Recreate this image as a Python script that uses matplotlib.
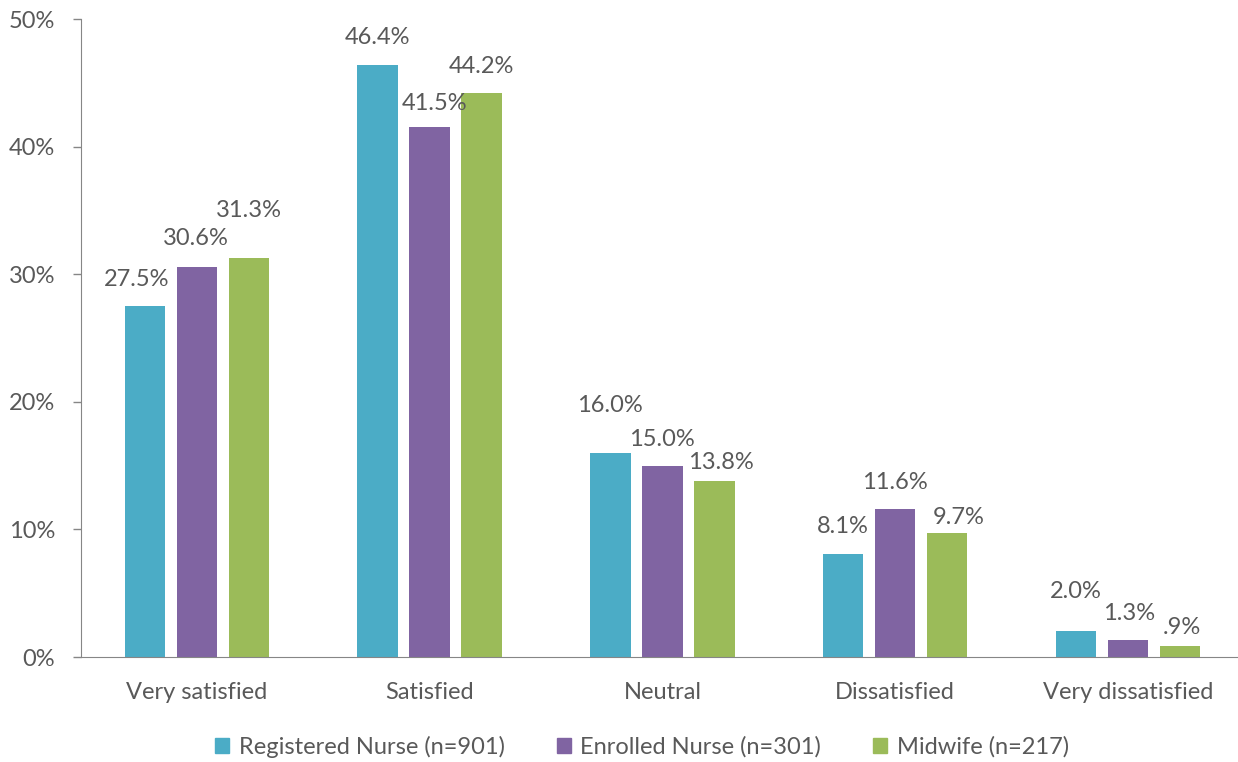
import matplotlib.pyplot as plt
import matplotlib.patches as mpatches
import numpy as np

categories = ['Very satisfied', 'Satisfied', 'Neutral', 'Dissatisfied', 'Very dissatisfied']
series = ['Registered Nurse (n=901)', 'Enrolled Nurse (n=301)', 'Midwife (n=217)']
registered = [27.5, 46.4, 16.0, 8.1, 2.0]
enrolled = [30.6, 41.5, 15.0, 11.6, 1.3]
midwife = [31.3, 44.2, 13.8, 9.7, 0.9]
labels = [['27.5%', '46.4%', '16.0%', '8.1%', '2.0%'],
          ['30.6%', '41.5%', '15.0%', '11.6%', '1.3%'],
          ['31.3%', '44.2%', '13.8%', '9.7%', '.9%']]

colors = ['#4BACC6', '#8064A2', '#9BBB59']
text_c = '#595959'
# label nudges in pixels (dx, dy above bar top), Excel style placement
nudges = [[(-8, 27), (0, 27.5), (0, 47), (0, 27), (0, 40)],
          [(-1, 28), (5, 24), (0, 26), (0, 26.5), (1, 26.5)],
          [(0, 47), (0, 26.5), (7, 18), (12, 15.5), (2, 18)]]

plt.rcParams['font.family'] = ['Lato', 'DejaVu Sans']
fs = 17

fig = plt.figure(figsize=(12.38, 7.62), dpi=100)
ax = fig.add_axes([80.5/1238, 105/762, 1163.75/1238, 638/762])

x = np.arange(len(categories))
width = 0.174
step = 0.2234
for i, vals in enumerate([registered, enrolled, midwife]):
    bars = ax.bar(x + (i - 1) * step, vals, width, color=colors[i], label=series[i])
    for j, b in enumerate(bars):
        dx, dy = nudges[i][j]
        ax.annotate(labels[i][j], (b.get_x() + b.get_width() / 2, b.get_height()),
                    xytext=(dx, dy), textcoords='offset pixels',
                    ha='center', va='center', fontsize=fs, color=text_c)

ax.set_xlim(-0.5, len(categories) - 0.5)
ax.set_ylim(0, 50)
ax.set_yticks(np.arange(0, 51, 10))
ax.set_yticklabels([f'{v}%' for v in range(0, 51, 10)])
ax.set_xticks(x)
ax.set_xticklabels(categories)
ax.tick_params(axis='x', length=0, pad=18, labelsize=fs, colors=text_c)
ax.tick_params(axis='y', length=5.8, width=1, color='#868686', pad=12.5, labelsize=fs, labelcolor=text_c)
for s in ['top', 'right']:
    ax.spines[s].set_visible(False)
ax.spines['left'].set_color('#868686')
ax.spines['bottom'].set_color('#868686')

handles = [mpatches.Patch(color=c) for c in colors]
fig.legend(handles, series, loc='center', bbox_to_anchor=(642/1238, 15/762), ncol=3,
           frameon=False, fontsize=fs, labelcolor=text_c, handlelength=0.6,
           handleheight=0.6, handletextpad=0.4, columnspacing=2.2)

fig.savefig('out.png', dpi=100)
